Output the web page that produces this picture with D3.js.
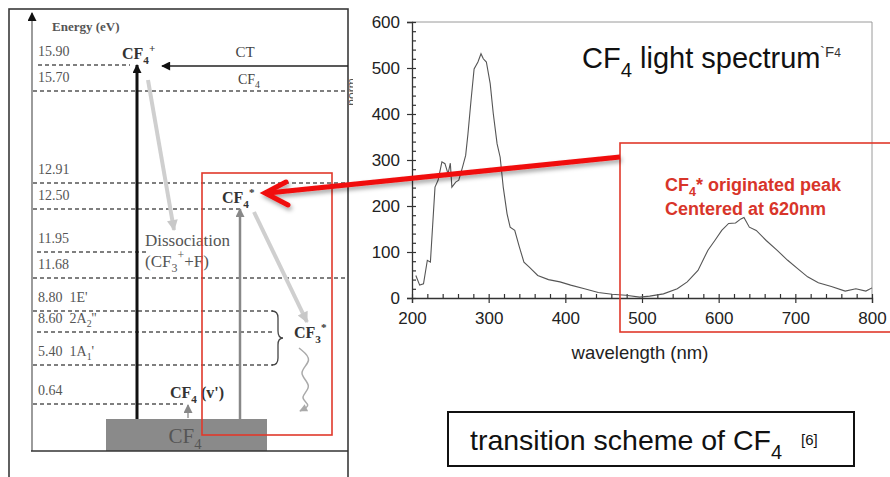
<!DOCTYPE html>
<html>
<head>
<meta charset="utf-8">
<script src="https://cdn.jsdelivr.net/npm/d3@7"></script>
<style>
  body { margin: 0; background: #fff; }
  svg { display: block; }
</style>
</head>
<body>
<script>
// CF4 light spectrum
var wavelength = [205, 210, 215, 220, 224, 230, 234, 239, 243, 247, 250, 252, 257, 261, 266, 270, 273, 277,
  281, 286, 290, 293, 297, 302, 306, 311, 315, 319, 324, 328, 334, 340, 346, 353, 364, 378, 393, 407,
  425, 443, 461, 479, 497, 510, 528, 546, 559, 573, 586, 595, 604, 613, 622, 629, 633, 640, 649, 662,
  676, 690, 703, 716, 730, 747, 765, 779, 792, 800];
var intensity = [49, 28, 31, 82, 78, 241, 256, 296, 292, 270, 293, 241, 252, 256, 285, 310, 357, 430,
  498, 513, 531, 520, 513, 466, 401, 335, 306, 241, 183, 154, 147, 111, 78, 67, 49, 40, 35, 28,
  20, 12, 8, 6, 2, 4, 9, 20, 35, 60, 104, 125, 147, 162, 163, 172, 175, 154, 147, 125,
  104, 82, 64, 46, 33, 25, 15, 20, 15, 22];
var xTicks = [200, 300, 400, 500, 600, 700, 800];
var yTicks = [0, 100, 200, 300, 400, 500, 600];

// energy levels of the transition scheme (eV)
var levelEnergy = [15.90, 15.70, 12.91, 12.50, 11.95, 11.68, 8.80, 8.60, 5.40, 0.64];
var levelLabel = ["15.90", "15.70", "12.91", "12.50", "11.95", "11.68", "8.80", "8.60", "5.40", "0.64"];
var levelState = [null, null, null, null, null, null,
  [["  1E'"]], [["  2A"], ["2", "sub"], ["''"]], [["  1A"], ["1", "sub"], ["'"]], null];

var W = 890, H = 477;
var serif = "'Liberation Serif', 'Times New Roman', serif";
var sans = "'Liberation Sans', Arial, Helvetica, sans-serif";

var svg = d3.select("body").append("svg")
  .attr("width", W)
  .attr("height", H);

svg.append("rect").attr("width", W).attr("height", H).attr("fill", "#fff");

var defs = svg.append("defs");

function marker(id, color, w, h) {
  defs.append("marker")
    .attr("id", id)
    .attr("viewBox", "0 0 10 10")
    .attr("refX", 9).attr("refY", 5)
    .attr("markerUnits", "userSpaceOnUse")
    .attr("markerWidth", w).attr("markerHeight", h)
    .attr("orient", "auto")
    .append("path")
    .attr("d", "M0,0 L10,5 L0,10 z")
    .attr("fill", color);
}
marker("arrBlack", "#111", 11, 9);
marker("arrGray", "#888", 11, 9);
marker("arrLight", "#c8c8c8", 13, 11);
marker("arrWave", "#aaa", 9, 8);

var shadow = defs.append("filter").attr("id", "shadow")
  .attr("x", "-10%").attr("y", "-50%").attr("width", "120%").attr("height", "200%");
shadow.append("feDropShadow")
  .attr("dx", 1.5).attr("dy", 3).attr("stdDeviation", 2)
  .attr("flood-color", "#000").attr("flood-opacity", 0.35);

defs.append("clipPath").attr("id", "ylabClip")
  .append("rect").attr("x", 349).attr("y", 0).attr("width", 4).attr("height", 200);

// text with sub/superscripts
function rich(sel, parts, size) {
  var shift = 0;
  parts.forEach(function (p) {
    var t = sel.append("tspan").text(p[0]);
    var target = p[1] === "sub" ? size * 0.3 : p[1] === "sup" ? -size * 0.45 : 0;
    if (p[1]) t.attr("font-size", size * 0.7);
    t.attr("dy", target - shift);
    shift = target;
  });
  return sel;
}

function label(g, x, y, parts, size, opts) {
  opts = opts || {};
  var t = g.append("text")
    .attr("x", x).attr("y", y)
    .attr("font-family", opts.family || serif)
    .attr("font-size", size)
    .attr("font-weight", opts.weight || "normal")
    .attr("fill", opts.color || "#444")
    .attr("text-anchor", opts.anchor || "start")
    .style("white-space", "pre");
  return rich(t, parts, size);
}

// ---------------- left: transition scheme ----------------
var scheme = svg.append("g");

// schematic (non linear) energy axis
var ey = d3.scaleLinear()
  .domain([0, 0.64, 5.40, 8.60, 8.80, 11.68, 11.95, 12.50, 12.91, 15.70, 15.90])
  .range([419, 404, 365, 332, 311, 278, 252, 209, 183, 91, 65]);
var levelX0 = [38, 33, 33, 33, 37, 33, 33, 37, 33, 33];
var levelX1 = [130, 348, 348, 240, 146, 348, 273, 273, 273, 183];

scheme.append("rect")
  .attr("x", 9).attr("y", 9).attr("width", 339).attr("height", 480)
  .attr("fill", "none").attr("stroke", "#3a3a3a").attr("stroke-width", 1.6);

scheme.append("line")
  .attr("x1", 32).attr("x2", 32).attr("y1", 451).attr("y2", 13)
  .attr("stroke", "#666").attr("stroke-width", 1.3)
  .attr("marker-end", "url(#arrBlack)");

label(scheme, 52, 31, [["Energy (eV)"]], 13, { weight: "bold", color: "#555" });

scheme.selectAll(".level")
  .data(levelEnergy)
  .enter().append("line")
  .attr("class", "level")
  .attr("x1", function (d, i) { return levelX0[i]; })
  .attr("x2", function (d, i) { return levelX1[i]; })
  .attr("y1", function (d) { return ey(d); })
  .attr("y2", function (d) { return ey(d); })
  .attr("stroke", "#555")
  .attr("stroke-width", 1.5)
  .attr("stroke-dasharray", "4,3");

levelEnergy.forEach(function (e, i) {
  var parts = [[levelLabel[i]]].concat(levelState[i] || []);
  label(scheme, 38, ey(e) - 9, parts, 14, { color: "#555" });
});

// ground state block
scheme.append("rect")
  .attr("x", 106).attr("y", ey(0)).attr("width", 161).attr("height", 451 - ey(0))
  .attr("fill", "#8a8a8a");
label(scheme, 185, 443, [["CF"], ["4", "sub"]], 21, { anchor: "middle", color: "#555" });

scheme.append("line")
  .attr("x1", 31).attr("x2", 348).attr("y1", 451).attr("y2", 451)
  .attr("stroke", "#333").attr("stroke-width", 1.6);

// excitation arrows
scheme.append("line")
  .attr("x1", 137).attr("x2", 137).attr("y1", ey(0)).attr("y2", ey(15.90))
  .attr("stroke", "#111").attr("stroke-width", 3)
  .attr("marker-end", "url(#arrBlack)");
scheme.append("line")
  .attr("x1", 240).attr("x2", 240).attr("y1", ey(0)).attr("y2", ey(12.50))
  .attr("stroke", "#888").attr("stroke-width", 2.5)
  .attr("marker-end", "url(#arrGray)");
scheme.append("line")
  .attr("x1", 188).attr("x2", 188).attr("y1", ey(0) - 1).attr("y2", ey(0.64) + 1)
  .attr("stroke", "#999").attr("stroke-width", 1.5)
  .attr("marker-end", "url(#arrGray)");

// charge transfer
scheme.append("line")
  .attr("x1", 348).attr("x2", 162).attr("y1", 66).attr("y2", 66)
  .attr("stroke", "#222").attr("stroke-width", 1.4)
  .attr("marker-end", "url(#arrBlack)");
label(scheme, 245, 57, [["CT"]], 15, { anchor: "middle" });
label(scheme, 249, 84, [["CF"], ["4", "sub"]], 14, { anchor: "middle" });

// decay arrows
scheme.append("line")
  .attr("x1", 148).attr("y1", 80).attr("x2", 174).attr("y2", 230)
  .attr("stroke", "#cfcfcf").attr("stroke-width", 4)
  .attr("marker-end", "url(#arrLight)");
scheme.append("line")
  .attr("x1", 254).attr("y1", 212).attr("x2", 307).attr("y2", 322)
  .attr("stroke", "#cfcfcf").attr("stroke-width", 4)
  .attr("marker-end", "url(#arrLight)");

label(scheme, 122, 59, [["CF"], ["4", "sub"], ["+", "sup"]], 16, { weight: "bold", color: "#333" });
label(scheme, 222, 203, [["CF"], ["4", "sub"], ["*", "sup"]], 16, { weight: "bold", color: "#333" });
label(scheme, 294, 338, [["CF"], ["3", "sub"], ["*", "sup"]], 16, { weight: "bold", color: "#333" });
label(scheme, 170, 398, [["CF"], ["4", "sub"], [" (v')"]], 16, { weight: "bold", color: "#333" });
label(scheme, 145, 246, [["Dissociation"]], 17, { color: "#555" });
label(scheme, 145, 267, [["(CF"], ["3", "sub"], ["+", "sup"], ["+F)"]], 17, { color: "#555" });

// brace grouping the CF3* states
scheme.append("path")
  .attr("d", "M272,311 q6,0 6,7 v13 q0,7 5,7 q-5,0 -5,7 v13 q0,7 -6,7")
  .attr("fill", "none").attr("stroke", "#444").attr("stroke-width", 1.3);

// emission wiggle
scheme.append("path")
  .attr("d", d3.line().curve(d3.curveBasis)([[299, 348], [314, 360], [296, 373], [314, 386], [298, 398], [312, 405], [300, 411]]))
  .attr("fill", "none").attr("stroke", "#aaa").attr("stroke-width", 1.5)
  .attr("marker-end", "url(#arrWave)");

// ---------------- right: spectrum ----------------
var x = d3.scaleLinear().domain([200, 800]).range([412, 872]);
var y = d3.scaleLinear().domain([0, 600]).range([298, 22]);

var plot = svg.append("g");

plot.append("path")
  .attr("d", "M" + x(200) + "," + y(600) + "H" + x(800) + "V" + y(0))
  .attr("fill", "none").attr("stroke", "#9a9a9a").attr("stroke-width", 1);

var xAxis = d3.axisBottom(x).tickValues(xTicks).tickSize(5).tickPadding(9);
var yAxis = d3.axisLeft(y).tickValues(yTicks).tickSize(5).tickPadding(7);

function styleAxis(g) {
  g.select(".domain").attr("stroke", "#333").attr("stroke-width", 1.3);
  g.selectAll(".tick line").attr("stroke", "#333").attr("stroke-width", 1.2);
  g.selectAll("text").attr("font-family", sans).attr("font-size", 17).attr("fill", "#222");
}

plot.append("g")
  .attr("transform", "translate(0," + y(0) + ")")
  .call(xAxis)
  .call(styleAxis);
plot.append("g")
  .attr("transform", "translate(0," + y(0) + ")")
  .call(d3.axisBottom(x).tickValues(d3.range(200, 801, 20)).tickSize(-4).tickFormat(""))
  .call(function (g) {
    g.select(".domain").remove();
    g.selectAll("line").attr("stroke", "#333").attr("stroke-width", 1.2);
  });

plot.append("g")
  .attr("transform", "translate(" + x(200) + ",0)")
  .call(yAxis)
  .call(styleAxis);
plot.append("g")
  .attr("transform", "translate(" + x(200) + ",0)")
  .call(d3.axisLeft(y).tickValues(d3.range(0, 601, 20)).tickSize(-4).tickFormat(""))
  .call(function (g) {
    g.select(".domain").remove();
    g.selectAll("line").attr("stroke", "#333").attr("stroke-width", 1.2);
  });

plot.append("path")
  .datum(d3.zip(wavelength, intensity))
  .attr("d", d3.line()
    .x(function (d) { return x(d[0]); })
    .y(function (d) { return y(d[1]); }))
  .attr("fill", "none")
  .attr("stroke", "#555")
  .attr("stroke-width", 1.1);

label(plot, 640, 359, [["wavelength (nm)"]], 18.5, { family: sans, anchor: "middle", color: "#222" });

// cut-off y label at the edge of the scheme
plot.append("g").attr("clip-path", "url(#ylabClip)")
  .append("text")
  .attr("transform", "translate(356,92) rotate(-90)")
  .attr("text-anchor", "middle")
  .attr("font-family", sans).attr("font-size", 12).attr("fill", "#555")
  .text("norm");

label(plot, 582, 68, [["CF"], ["4", "sub"], [" light spectrum"]], 29, { family: sans, color: "#111" });
label(plot, 820, 57, [["`F"], ["4"]], 15, { family: sans, color: "#333" })
  .select("tspan:last-child").attr("font-size", 12);

// ---------------- annotations ----------------
var red = "#e0392b";
svg.append("rect")
  .attr("x", 202).attr("y", 173).attr("width", 130).attr("height", 262)
  .attr("fill", "none").attr("stroke", red).attr("stroke-width", 1.6);
svg.append("rect")
  .attr("x", 620).attr("y", 143).attr("width", 272).attr("height", 189)
  .attr("fill", "none").attr("stroke", red).attr("stroke-width", 1.6);

label(svg, 665, 191, [["CF"], ["4", "sub"], ["* originated peak"]], 18, { family: sans, weight: "bold", color: "#d8352a" });
label(svg, 665, 215, [["Centered at 620nm"]], 18, { family: sans, weight: "bold", color: "#d8352a" });

var arrow = svg.append("g").attr("filter", "url(#shadow)");
arrow.append("line")
  .attr("x1", 620).attr("y1", 157).attr("x2", 268).attr("y2", 193)
  .attr("stroke", "#f01010").attr("stroke-width", 5);
arrow.append("path")
  .attr("d", "M286,182 L265,193 L288,205")
  .attr("fill", "none").attr("stroke", "#f01010").attr("stroke-width", 5)
  .attr("stroke-linecap", "round").attr("stroke-linejoin", "miter");

// caption box
svg.append("rect")
  .attr("x", 448).attr("y", 412).attr("width", 406).attr("height", 54)
  .attr("fill", "#fff").attr("stroke", "#111").attr("stroke-width", 2);
label(svg, 470, 450, [["transition scheme of CF"], ["4", "sub"]], 28.5, { family: sans, color: "#111" });
label(svg, 801, 445, [["[6]"]], 15, { family: sans, color: "#111" });
</script>
</body>
</html>
